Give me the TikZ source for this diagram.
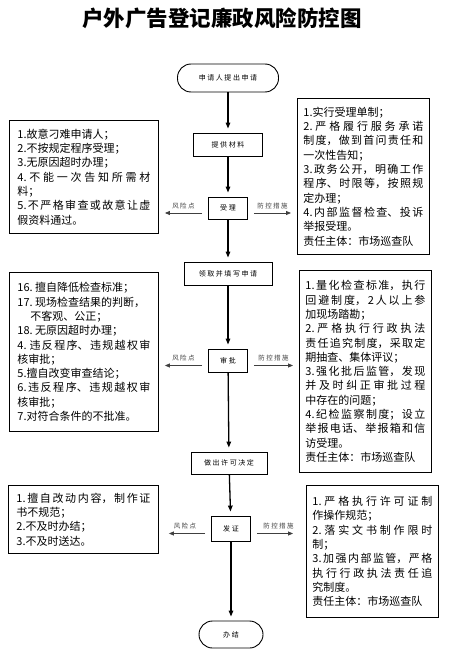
\documentclass[tikz,border=0pt]{standalone}
\usepackage{fontspec}
\newfontfamily\cjk{Noto Sans CJK SC}
\newfontfamily\cjksp[LetterSpace=22]{Noto Sans CJK SC}
\XeTeXlinebreaklocale "zh"
\XeTeXlinebreakskip=0pt plus 3pt
\usetikzlibrary{arrows.meta,positioning}

\begin{document}
\begin{tikzpicture}[x=1pt,y=-1pt,
    every node/.style={inner sep=0pt},
    flowbox/.style={draw,line width=0.9pt,minimum height=23pt,font=\cjksp\fontsize{7}{8}\selectfont},
    termbox/.style={flowbox,rounded corners=13.5pt,minimum height=27pt},
    notebox/.style={draw,line width=0.9pt,align=justify,inner ysep=2pt,anchor=north west,
        font=\cjk\fontsize{11}{14.3}\selectfont},
    mainarrow/.style={-{Triangle[length=6pt,width=4.5pt]},line width=1.3pt,shorten >=4pt},
    sidearrow/.style={-{Triangle[length=5pt,width=4pt]},line width=0.8pt,black!75,
        shorten <=6pt,shorten >=6pt},
    tag/.style={font=\cjksp\fontsize{6.5}{7}\selectfont,above=4pt}
    ]
    \useasboundingbox (0,0) rectangle (451,655);

    \node (title) at (222,18) {\cjk\bfseries\fontsize{21.5}{24}\selectfont 户外广告登记廉政风险防控图};

    % the flow
    \node (st) [termbox,minimum width=101pt,minimum height=28pt] at (228,78) {申请人提出申请};
    \node (s1) [flowbox,minimum width=69pt] at (228,144.5) {提供材料};
    \node (s2) [flowbox,minimum width=39pt,minimum height=22pt] at (228,208) {受理};
    \node (s3) [flowbox,minimum width=88pt] at (228,273.5) {领取并填写申请};
    \node (s4) [flowbox,minimum width=39pt] at (228,360.5) {审批};
    \node (s5) [flowbox,minimum width=76pt,minimum height=22pt] at (229,463) {做出许可决定};
    \node (s6) [flowbox,minimum width=39pt,minimum height=25pt] at (231,528.5) {发证};
    \node (en) [termbox,minimum width=64pt] at (231,634.5) {办结};

    % risk points
    \node (r1) [notebox,inner xsep=8pt,text width=133pt,minimum height=113pt] at (9,120) {%
        1.故意刁难申请人；\\
        2.不按规定程序受理；\\
        3.无原因超时办理；\\
        4.不能一次告知所需材\linebreak
        料；\\
        5.不严格审查或故意让虚\linebreak
        假资料通过。};
    \node (r2) [notebox,inner xsep=8pt,text width=133pt,minimum height=159pt] at (9,272) {%
        16.~擅自降低检查标准；\\
        17.~现场检查结果的判断，\\
        \hspace*{13pt}不客观、公正；\\
        18.~无原因超时办理；\\
        4.~违反程序、违规越权审\linebreak
        核审批；\\
        5.擅自改变审查结论；\\
        6.违反程序、违规越权审\linebreak
        核审批；\\
        7.对符合条件的不批准。};
    \node (r3) [notebox,inner xsep=8pt,text width=134pt,minimum height=68pt] at (8,485) {%
        1.擅自改动内容，制作证\linebreak
        书不规范；\\
        2.不及时办结；\\
        3.不及时送达。};

    % control measures
    \node (m1) [notebox,inner xsep=6pt,text width=120pt,minimum height=156pt] at (297,98) {%
        1.实行受理单制；\\
        2.严格履行服务承诺\linebreak
        制度，做到首问责任和\linebreak
        一次性告知；\\
        3.政务公开，明确工作\linebreak
        程序、时限等，按照规\linebreak
        定办理；\\
        4.内部监督检查、投诉\linebreak
        举报受理。\\
        责任主体：市场巡查队};
    \node (m2) [notebox,inner xsep=6pt,text width=120pt,minimum height=202pt] at (299,270) {%
        1.量化检查标准，执行\linebreak
        回避制度，2人以上参\linebreak
        加现场踏勘；\\
        2.严格执行行政执法\linebreak
        责任追究制度，采取定\linebreak
        期抽查、集体评议；\\
        3.强化批后监管，发现\linebreak
        并及时纠正审批过程\linebreak
        中存在的问题；\\
        4.纪检监察制度；设立\linebreak
        举报电话、举报箱和信\linebreak
        访受理。\\
        责任主体：市场巡查队};
    \node (m3) [notebox,inner xsep=6pt,text width=120pt,minimum height=132pt] at (306,485) {%
        1.严格执行许可证制\linebreak
        作操作规范；\\
        2.落实文书制作限时\linebreak
        制；\\
        3.加强内部监管，严格\linebreak
        执行行政执法责任追\linebreak
        究制度。\\
        责任主体：市场巡查队};

    % the edges
    \draw[mainarrow] (st) -- (s1);
    \draw[mainarrow] (s1) -- (s2);
    \draw[mainarrow] (s2) -- (s3);
    \draw[mainarrow] (s3) -- (s4);
    \draw[mainarrow] (s4) -- (s5);
    \draw[mainarrow] (s5) -- (s6);
    \draw[mainarrow] (s6) -- (en);

    \draw[sidearrow] ([yshift=-5pt]s2.west) -- ([yshift=-5pt]s2.west -| r1.east) node[tag,midway] {风险点};
    \draw[sidearrow] ([yshift=-5pt]s2.east) -- ([yshift=-5pt]s2.east -| m1.west) node[tag,midway] {防控措施};
    \draw[sidearrow] ([yshift=-5pt]s4.west) -- ([yshift=-5pt]s4.west -| r2.east) node[tag,midway] {风险点};
    \draw[sidearrow] ([yshift=-5pt]s4.east) -- ([yshift=-5pt]s4.east -| m2.west) node[tag,midway] {防控措施};
    \draw[sidearrow,shorten >=10pt] ([yshift=-5pt]s6.west) -- ([yshift=-5pt]s6.west -| r3.east) node[tag,midway] {风险点};
    \draw[sidearrow,shorten >=13pt] ([yshift=-5pt]s6.east) -- ([yshift=-5pt]s6.east -| m3.west) node[tag,midway] {防控措施};
\end{tikzpicture}
\end{document}
